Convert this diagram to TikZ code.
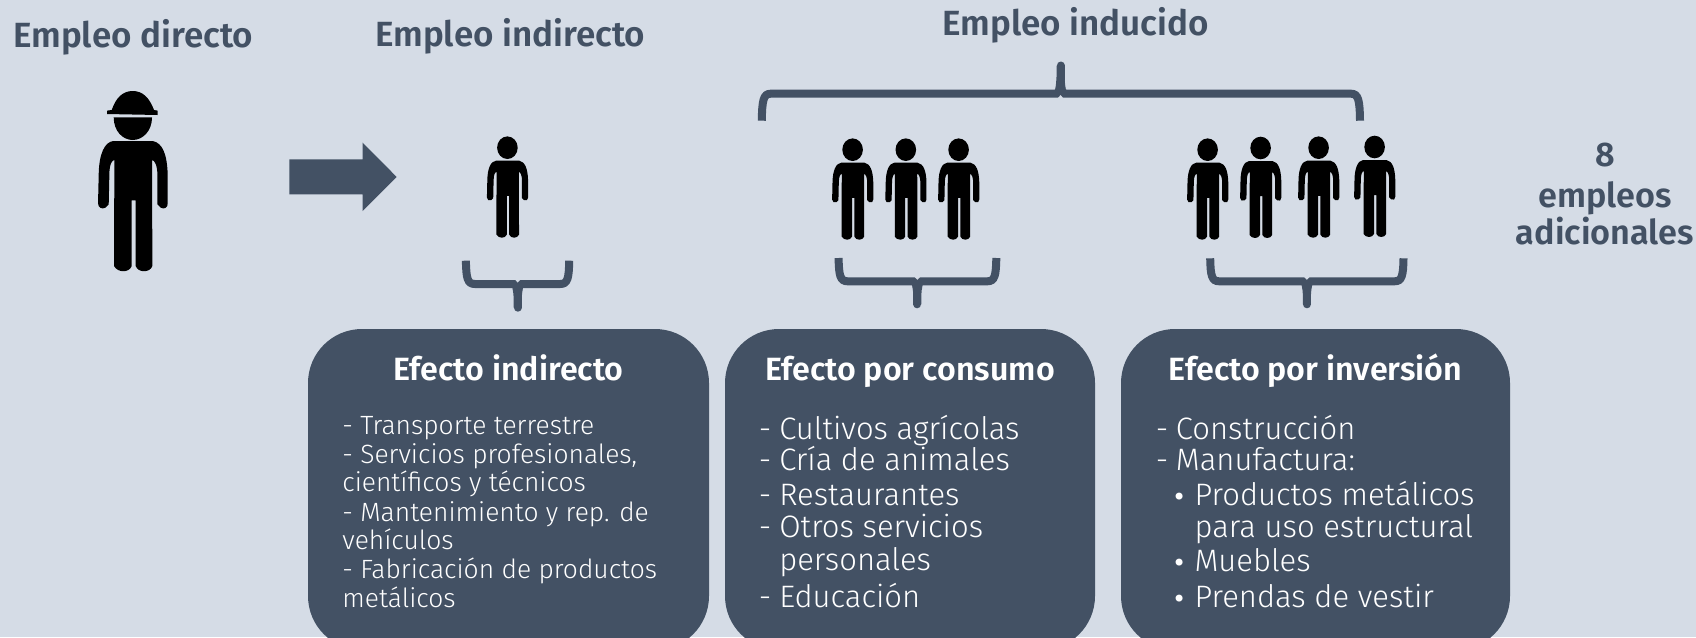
\documentclass[tikz,border=0pt]{standalone}
\usepackage{fontspec}
\setmainfont{Fira Sans Light}[BoldFont={Fira Sans SemiBold}]
\newfontfamily\dotfont{DejaVu Sans}
\definecolor{bg}{HTML}{D5DCE6}
\definecolor{slate}{HTML}{435164}
\tikzset{
  headtext/.style={font=\bfseries\fontsize{17.5}{20}\selectfont,text=slate,inner sep=0pt,anchor=base},
  sidetext/.style={font=\bfseries\fontsize{17.1}{20}\selectfont,text=slate,inner sep=0pt,anchor=base},
  boxfill/.style={fill=slate,rounded corners=27pt},
  boxtitle/.style={font=\bfseries\fontsize{16.1}{18}\selectfont,text=white,inner sep=0pt,anchor=base},
  smalltext/.style={font=\fontsize{13.2}{15}\selectfont,text=white,inner sep=0pt,anchor=base west},
  bigtext/.style={font=\fontsize{15.5}{18}\selectfont,text=white,inner sep=0pt,anchor=base west},
  bracepath/.style={draw=slate,line width=4pt},
}
\newcommand{\dotmark}{\makebox[11.2pt][l]{\dotfont\fontsize{12}{14}\selectfont •}}
\newcommand{\bodyshape}{%
  \fill[black] (-58,0) .. controls (-85,3) and (-101,40) .. (-102,100)
    -- (-104,187) .. controls (-104,200) and (-92,206) .. (-82,200) -- (-72,190)
    -- (-70,100) .. controls (-70,70) and (-62,57) .. (-55,57)
    -- (-56,375) .. controls (-45,396) and (-10,396) .. (-3,375)
    -- (-3,178) -- (9,178) -- (9,375) .. controls (16,396) and (52,396) .. (59,375)
    -- (58,57) .. controls (66,57) and (74,75) .. (74,100)
    -- (74,190) -- (84,200) .. controls (94,206) and (106,200) .. (105,187)
    -- (105,100) .. controls (103,40) and (90,6) .. (60,0) -- cycle;}
% cx, body top
\newcommand{\person}[2]{%
  \begin{scope}[shift={(#1,#2)},scale=0.197]
    \bodyshape
  \end{scope}
  \fill[black] (#1,#2-13) ellipse [x radius=10.3,y radius=11.3];}
% left outer, right outer, centre, end y, bar y, tip y
\newcommand{\curlybrace}[6]{%
  \draw[bracepath] (#1+4,#4) .. controls (#1+4.3,{#4+(#5-#4)*0.75}) and (#1+5.5,#5) .. (#1+13,#5)
    -- (#2-13,#5) .. controls (#2-5.5,#5) and (#2-4.3,{#4+(#5-#4)*0.75}) .. (#2-4,#4);
  \fill[slate] (#3-9,#5) .. controls (#3-5,#5) and (#3-4.5,{#5+(#6-#5)*0.3}) .. (#3-4,{#5+(#6-#5)*0.6})
    -- (#3-4,#6) -- (#3+4,#6)
    -- (#3+4,{#5+(#6-#5)*0.6}) .. controls (#3+4.5,{#5+(#6-#5)*0.3}) and (#3+5,#5) .. (#3+9,#5) -- cycle;
  \draw[slate,line width=4pt,line cap=round] (#3,{#5+(#6-#5)*0.5}) -- (#3,#6);
  \fill[bg] (#3-2.5,{#5-(#6-#5)/abs(#6-#5)*4.1}) -- (#3,{#5-(#6-#5)/abs(#6-#5)*1.5}) -- (#3+2.5,{#5-(#6-#5)/abs(#6-#5)*4.1}) -- cycle;}
\begin{document}
\begin{tikzpicture}[x=0.5pt,y=-0.5pt]
\useasboundingbox (0,0) rectangle (1696,637);
\fill[bg] (0,0) rectangle (1696,637);
\begin{scope}
\clip (0,0) rectangle (1696,637);
\fill[boxfill] (308,329) rectangle (709,650);
\fill[boxfill] (725,329) rectangle (1095,650);
\fill[boxfill] (1121,329) rectangle (1510,650);
\end{scope}
% headings
\node[headtext] (hdirecto) at (133.2,47.7) {Empleo directo};
\node[headtext] (hindirecto) at (510.3,46.7) {Empleo indirecto};
\node[headtext] (hinducido) at (1075.8,35.7) {Empleo inducido};
\node[sidetext] (rocho) at (1605,166.7) {8};
\node[sidetext] (rempleos) at (1605,207.3) {empleos};
\node[sidetext] (radic) at (1605,244.3) {adicionales};
% worker
\begin{scope}[shift={(132.7,141)},scale=0.3333]
  \bodyshape
  \fill[black] (-57,-71) -- (58,-71) .. controls (58,-30) and (30,-3) .. (0,-3) .. controls (-30,-3) and (-57,-30) .. (-57,-71) -- cycle;
  \fill[black] (-77,-91) -- (-63,-93) .. controls (-50,-130) and (-30,-150) .. (0,-150) .. controls (30,-150) and (50,-130) .. (64,-93) -- (75,-91) -- (75,-78) -- (-77,-81) -- cycle;
\end{scope}
% arrow
\fill[slate] (289.3,159.3) -- (362.7,159.3) -- (362.7,142.7) -- (396.7,177) -- (362.7,211) -- (362.7,194.3) -- (289.3,194.3) -- cycle;
% people
\person{507.4}{160.7}
\person{852.6}{162.7}
\person{905.8}{162.7}
\person{958.6}{162.7}
\person{1207.6}{162.7}
\person{1260.6}{161}
\person{1318.6}{160.7}
\person{1374.6}{160}
% braces
\curlybrace{757.8}{1364}{1060.5}{120.7}{93.7}{65.5}
\curlybrace{461.9}{573.2}{517.7}{260.7}{284}{307.7}
\curlybrace{834.6}{1000.3}{917.3}{258}{281.3}{304.3}
\curlybrace{1206.2}{1407.5}{1306.9}{258.3}{281.3}{304.3}
% box 1
\node[boxtitle] (t1) at (508.5,380) {Efecto indirecto};
\node[smalltext] (a1) at (342,434) {- Transporte terrestre};
\node[smalltext] (a2) at (342,463.3) {- Servicios profesionales,};
\node[smalltext] (a3) at (342,491.7) {científicos y técnicos};
\node[smalltext] (a4) at (342,521.7) {- Mantenimiento y rep. de};
\node[smalltext] (a5) at (342,549.3) {vehículos};
\node[smalltext] (a6) at (342,578.3) {- Fabricación de productos};
\node[smalltext] (a7) at (342,607.3) {metálicos};
% box 2
\node[boxtitle] (t2) at (910,380) {Efecto por consumo};
\node[bigtext] (b1) at (758.5,439) {\makebox[10.2pt][l]{-}Cultivos agrícolas};
\node[bigtext] (b2) at (758.5,470.7) {\makebox[10.2pt][l]{-}Cría de animales};
\node[bigtext] (b3) at (758.5,505.7) {\makebox[10.2pt][l]{-}Restaurantes};
\node[bigtext] (b4) at (758.5,537.3) {\makebox[10.2pt][l]{-}Otros servicios};
\node[bigtext] (b5) at (778.9,570.7) {personales};
\node[bigtext] (b6) at (758.5,607.3) {\makebox[10.2pt][l]{-}Educación};
% box 3
\node[boxtitle] (t3) at (1315.5,380) {Efecto por inversión};
\node[bigtext] (c1) at (1155.5,439) {\makebox[10pt][l]{-}Construcción};
\node[bigtext] (c2) at (1155.5,470.7) {\makebox[10pt][l]{-}Manufactura:};
\node[bigtext] (c3) at (1171.8,505.7) {\dotmark Productos metálicos};
\node[bigtext] (c4) at (1194.2,537.3) {para uso estructural};
\node[bigtext] (c5) at (1171.8,571.7) {\dotmark Muebles};
\node[bigtext] (c6) at (1171.8,607.3) {\dotmark Prendas de vestir};
\end{tikzpicture}
\end{document}
